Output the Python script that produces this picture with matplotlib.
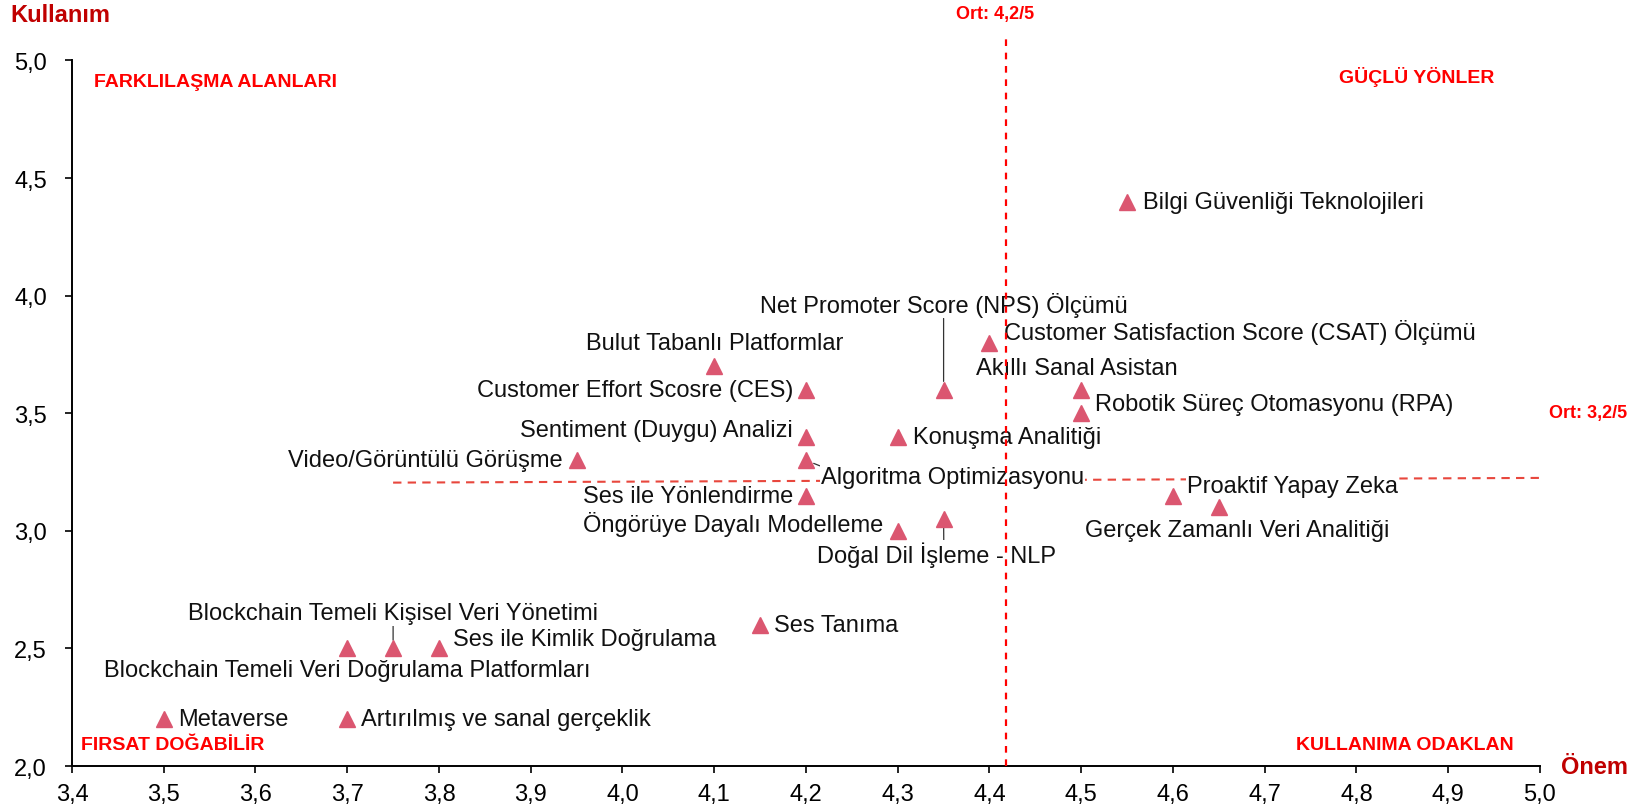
"""
Önem / Kullanım matrisi - teknoloji başlıkları, dört çeyrek.
"""

import matplotlib
matplotlib.use("Agg")
import matplotlib.pyplot as plt
from matplotlib.ticker import FuncFormatter, MultipleLocator

plt.rcParams['font.family'] = ['Liberation Sans', 'DejaVu Sans']

# --- data -------------------------------------------------------------------
NAMES = [
    'Bilgi Güvenliği Teknolojileri',
    'Net Promoter Score (NPS) Ölçümü',
    'Customer Satisfaction Score (CSAT) Ölçümü',
    'Akıllı Sanal Asistan',
    'Robotik Süreç Otomasyonu (RPA)',
    'Bulut Tabanlı Platformlar',
    'Customer Effort Scosre (CES)',
    'Sentiment (Duygu) Analizi',
    'Konuşma Analitiği',
    'Video/Görüntülü Görüşme',
    'Algoritma Optimizasyonu',
    'Ses ile Yönlendirme',
    'Öngörüye Dayalı Modelleme',
    'Doğal Dil İşleme - NLP',
    'Proaktif Yapay Zeka',
    'Gerçek Zamanlı Veri Analitiği',
    'Ses Tanıma',
    'Blockchain Temeli Kişisel Veri Yönetimi',
    'Blockchain Temeli Veri Doğrulama Platformları',
    'Ses ile Kimlik Doğrulama',
    'Metaverse',
    'Artırılmış ve sanal gerçeklik',
]
ONEM = [4.55, 4.35, 4.40, 4.50, 4.50, 4.10, 4.20, 4.20, 4.30, 3.95, 4.20,
        4.20, 4.30, 4.35, 4.60, 4.65, 4.15, 3.75, 3.70, 3.80, 3.50, 3.70]
KULLANIM = [4.40, 3.60, 3.80, 3.60, 3.50, 3.70, 3.60, 3.40, 3.40, 3.30, 3.30,
            3.15, 3.00, 3.05, 3.15, 3.10, 2.60, 2.50, 2.50, 2.50, 2.20, 2.20]

MEAN_ONEM = 4.418          # drawn position of "Ort: 4,2/5"
MEAN_LINE_X = [3.75, 5.0]  # "Ort: 3,2/5" reference line
MEAN_LINE_Y = [3.205, 3.225]

# --- label layout: (dx px, dy px, ha, va, leader relpos or None) ----------
LAYOUT = {
    'Bilgi Güvenliği Teknolojileri': (16, 0, 'left', 'center', None),
    'Net Promoter Score (NPS) Ölçümü': (0, 85, 'center', 'center', (0.5, 0.0)),
    'Customer Satisfaction Score (CSAT) Ölçümü': (15, 11, 'left', 'center', None),
    'Akıllı Sanal Asistan': (-4, 22, 'center', 'center', None),
    'Robotik Süreç Otomasyonu (RPA)': (14, 9, 'left', 'center', None),
    'Bulut Tabanlı Platformlar': (0, 23, 'center', 'center', None),
    'Customer Effort Scosre (CES)': (-13, 0, 'right', 'center', None),
    'Sentiment (Duygu) Analizi': (-13, 7, 'right', 'center', None),
    'Konuşma Analitiği': (15, 0, 'left', 'center', None),
    'Video/Görüntülü Görüşme': (-14, 0, 'right', 'center', None),
    'Algoritma Optimizasyonu': (15, -17, 'left', 'center', (0.0, 1.0)),
    'Ses ile Yönlendirme': (-13, 0, 'right', 'center', None),
    'Öngörüye Dayalı Modelleme': (-14, 7, 'right', 'center', None),
    'Doğal Dil İşleme - NLP': (-7, -35, 'center', 'center', (0.53, 1.0)),
    'Proaktif Yapay Zeka': (14, 10, 'left', 'center', None),
    'Gerçek Zamanlı Veri Analitiği': (18, -23, 'center', 'center', None),
    'Ses Tanıma': (14, 0, 'left', 'center', None),
    'Blockchain Temeli Kişisel Veri Yönetimi': (0, 35, 'center', 'center', (0.5, 0.0)),
    'Blockchain Temeli Veri Doğrulama Platformları': (0, -22, 'center', 'center', None),
    'Ses ile Kimlik Doğrulama': (14, 9, 'left', 'center', None),
    'Metaverse': (14, 0, 'left', 'center', None),
    'Artırılmış ve sanal gerçeklik': (14, 0, 'left', 'center', None),
}

MARKER_COLOR = '#DB5670'
RED = '#FF0000'
DARK_RED = '#C00000'
HLINE_COLOR = '#E8473D'


def comma_fmt(v, pos):
    return f'{v:.1f}'.replace('.', ',')


def main():
    fig = plt.figure(figsize=(16.36, 8.12), dpi=100)
    ax = fig.add_axes([0.044, 0.0554, 0.8973, 0.8689])

    ax.set_xlim(3.4, 5.0)
    ax.set_ylim(2.0, 5.0)
    ax.xaxis.set_major_locator(MultipleLocator(0.1))
    ax.yaxis.set_major_locator(MultipleLocator(0.5))
    ax.xaxis.set_major_formatter(FuncFormatter(comma_fmt))
    ax.yaxis.set_major_formatter(FuncFormatter(comma_fmt))
    ax.tick_params(axis='both', direction='out', length=5, width=1.2,
                   labelsize=17, colors='black')
    ax.tick_params(axis='y', pad=13)
    ax.tick_params(axis='x', pad=7)
    for side in ['top', 'right']:
        ax.spines[side].set_visible(False)
    for side in ['left', 'bottom']:
        ax.spines[side].set_linewidth(1.4)

    # mean reference lines
    ax.plot(MEAN_LINE_X, MEAN_LINE_Y, color=HLINE_COLOR, linestyle=(0, (4, 3)),
            linewidth=1.5, zorder=1)
    ax.plot([MEAN_ONEM, MEAN_ONEM], [2.0, 5.1], color=RED, linestyle=(0, (3, 3)),
            linewidth=1.6, zorder=6, clip_on=False)

    ax.plot(ONEM, KULLANIM, linestyle='none', marker='^', markersize=11,
            color=MARKER_COLOR, zorder=4)

    for name, x, y in zip(NAMES, ONEM, KULLANIM):
        dx, dy, ha, va, relpos = LAYOUT[name]
        kw = dict(xy=(x, y), xytext=(dx, dy), textcoords='offset pixels',
                  ha=ha, va=va, fontsize=17, color='#111111', zorder=3,
                  bbox=dict(boxstyle='square,pad=0.05', fc='white', ec='none'))
        if relpos is not None:
            kw['arrowprops'] = dict(arrowstyle='-', color='#333333', lw=0.9,
                                    relpos=relpos, shrinkA=0, shrinkB=6)
        ax.annotate(name, **kw)

    # quadrant captions
    qkw = dict(color=RED, fontweight='bold', fontsize=14, va='center')
    ax.text(3.424, 4.911, 'FARKLILAŞMA ALANLARI', ha='left', **qkw)
    ax.text(4.866, 4.933, 'GÜÇLÜ YÖNLER', ha='center', **qkw)
    ax.text(3.410, 2.093, 'FIRSAT DOĞABİLİR', ha='left', **qkw)
    ax.text(4.853, 2.093, 'KULLANIMA ODAKLAN', ha='center', **qkw)

    ax.text(5.095, 3.504, 'Ort: 3,2/5', ha='right', va='center', color=RED,
            fontweight='bold', fontsize=13, clip_on=False)
    ax.text(4.406, 5.2, 'Ort: 4,2/5', ha='center', va='center', color=RED,
            fontweight='bold', fontsize=13, clip_on=False)

    # axis titles
    fig.text(10 / 1636, 1 - 16 / 812, 'Kullanım', ha='left', va='center',
             color=DARK_RED, fontweight='bold', fontsize=17)
    fig.text(1628 / 1636, 1 - 768 / 812, 'Önem', ha='right', va='center',
             color=DARK_RED, fontweight='bold', fontsize=17)

    fig.savefig('out.png', dpi=100)


if __name__ == '__main__':
    main()
